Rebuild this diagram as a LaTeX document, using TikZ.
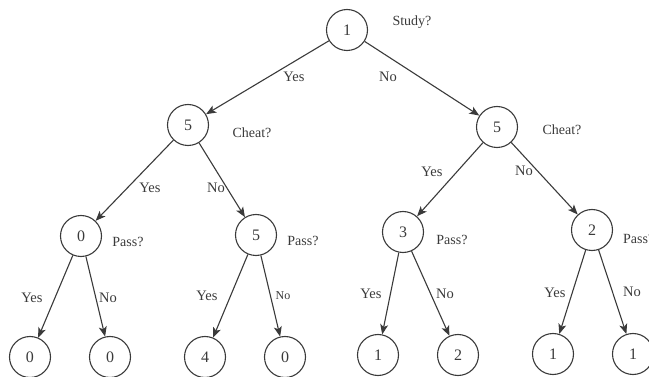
\documentclass[tikz,border=0pt]{standalone}
\usepackage{fontspec}
\setmainfont{Liberation Serif}
\usetikzlibrary{arrows.meta}
\definecolor{ink}{HTML}{3A3A3A}
\tikzset{
  state/.style={circle,draw=ink,line width=1.1pt,minimum size=41pt,inner sep=0pt,
    text=ink,font=\fontsize{16}{16}\selectfont},
  question/.style={text=ink,font=\fontsize{14}{14}\selectfont,inner sep=0pt},
  answer/.style={text=ink,font=\fontsize{14.5}{14}\selectfont,inner sep=0pt},
  small answer/.style={text=ink,font=\fontsize{12}{12}\selectfont,inner sep=0pt},
  branch/.style={draw=ink,line width=1.1pt,-{Stealth[length=10pt,width=8pt,inset=2.5pt]}}
}
\begin{document}
\begin{tikzpicture}[x=1pt,y=-1pt]
\useasboundingbox (0,0) rectangle (649,377);
% decision nodes
\node[state] (r)  at (347,30)  {1};
\node[state] (a)  at (188,125) {5};
\node[state] (b)  at (497,127) {5};
\node[state] (aa) at (81,236)  {0};
\node[state] (ab) at (256,235) {5};
\node[state] (ba) at (403,232) {3};
\node[state] (bb) at (592,230) {2};
% outcomes
\node[state] (l1) at (30,357)  {0};
\node[state] (l2) at (110,357) {0};
\node[state] (l3) at (205,357) {4};
\node[state] (l4) at (285,357) {0};
\node[state] (l5) at (378,355) {1};
\node[state] (l6) at (458,355) {2};
\node[state] (l7) at (553,354) {1};
\node[state] (l8) at (633,354) {1};
% questions
\node[question] (q0) at (412,22)  {Study?};
\node[question] (q1) at (252,133) {Cheat?};
\node[question] (q2) at (562,130) {Cheat?};
\node[question] (q3) at (128,242) {Pass?};
\node[question] (q4) at (303,241) {Pass?};
\node[question] (q5) at (452,240) {Pass?};
\node[question,anchor=west] (q6) at (623,239) {Pass?};
% branches
\draw[branch] (r) -- (a);
\draw[branch] (r) -- (b);
\draw[branch] (a) -- (aa);
\draw[branch] (a) -- (ab);
\draw[branch] (b) -- (ba);
\draw[branch] (b) -- (bb);
\draw[branch] (aa) -- (l1);
\draw[branch] (aa) -- (l2);
\draw[branch] (ab) -- (l3);
\draw[branch] (ab) -- (l4);
\draw[branch] (ba) -- (l5);
\draw[branch] (ba) -- (l6);
\draw[branch] (bb) -- (l7);
\draw[branch] (bb) -- (l8);
% branch labels
\node[answer] (y0) at (294,77) {Yes};
\node[answer] (n0) at (388,77) {No};
\node[answer] (y1) at (150,188) {Yes};
\node[answer] (n1) at (216,188) {No};
\node[answer] (y2) at (432,172) {Yes};
\node[answer] (n2) at (524,171) {No};
\node[answer] (y3) at (32,298) {Yes};
\node[answer] (n3) at (108,298) {No};
\node[answer] (y4) at (207,296) {Yes};
\node[small answer] (n4) at (283,296) {No};
\node[answer] (y5) at (371,294) {Yes};
\node[answer] (n5) at (445,294) {No};
\node[answer] (y6) at (555,293) {Yes};
\node[answer] (n6) at (632,292) {No};
\end{tikzpicture}
\end{document}
